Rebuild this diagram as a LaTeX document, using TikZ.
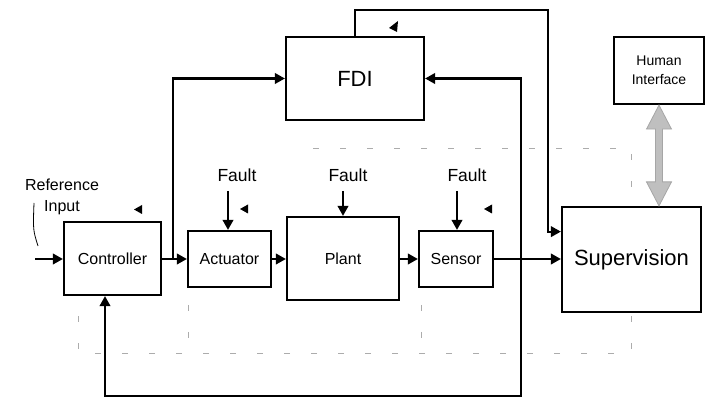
\documentclass[tikz,border=0pt]{standalone}
\usepackage{fontspec}
\setmainfont{Liberation Sans}
\usetikzlibrary{arrows.meta,calc}
\begin{document}
\begin{tikzpicture}[x=1pt,y=-1pt,
  blk/.style={draw=black,fill=white,line width=2.2pt,inner sep=0pt,font=\fontsize{16}{19}\selectfont},
  conn/.style={line width=2.2pt,-{Triangle[length=10pt,width=10.5pt]}},
  shadowline/.style={draw=gray!65,line width=0.9pt,dash pattern=on 6pt off 21pt},
  lbl/.style={font=\fontsize{17.5}{19}\selectfont,inner sep=0pt},
  dbl/.style={fill=gray!50,draw=gray!70,line width=0.8pt},
  pics/ltri/.style={code={\fill (4,-4.5) -- (-4,0) -- (4,4.5) -- cycle;}}
]
\useasboundingbox (0,0) rectangle (705,398);

% faint dashed lines (behind)
\draw[shadowline] (313,148) -- (631,148) -- (631,353) -- (78,353) -- (78,305);
\draw[shadowline] (188,305) -- (188,353);
\draw[shadowline] (421,305) -- (421,353);

% blocks
\node[blk,minimum width=97pt,minimum height=73pt] (ctrl) at (112.5,258.5) {Controller};
\node[blk,minimum width=83pt,minimum height=56pt] (act) at (229.5,259) {Actuator};
\node[blk,minimum width=112pt,minimum height=83pt] (plant) at (343,258.5) {Plant};
\node[blk,minimum width=74pt,minimum height=56pt] (sens) at (456,259) {Sensor};
\node[blk,minimum width=139pt,minimum height=105pt,font=\fontsize{22}{26}\selectfont] (sup) at (631.5,259.5) {Supervision};
\node[blk,minimum width=138pt,minimum height=83pt,font=\fontsize{22}{26}\selectfont] (fdi) at (355,78.5) {FDI};
\node[blk,minimum width=90pt,minimum height=67pt,align=center,font=\fontsize{14}{19}\selectfont] (hi) at (659,70.5) {Human\\Interface};

% reference input
\node[lbl,align=center,font=\fontsize{16}{21}\selectfont] (refin) at (62,197) {Reference\\Input};
\coordinate (inp) at (35,259);
\draw[line width=0.8pt] (34,203) .. controls (33,230) .. (38,246);
\draw[conn] (inp) -- (inp -| ctrl.west);

% fault inputs
\node[lbl] (f1) at (237,175) {Fault};
\node[lbl] (f2) at (348,175) {Fault};
\node[lbl] (f3) at (467,175) {Fault};
\coordinate (fa1) at (228,191);
\coordinate (fa2) at (343,191);
\coordinate (fa3) at (457,191);
\draw[conn] (fa1) -- (fa1 |- act.north);
\draw[conn] (fa2) -- (fa2 |- plant.north);
\draw[conn] (fa3) -- (fa3 |- sens.north);

% main chain
\draw[conn] (ctrl.east |- act.west) -- (act.west);
\draw[conn] (act.east) -- (act.east -| plant.west);
\draw[conn] (plant.east |- sens.west) -- (sens.west);
\draw[conn] (sens.east) -- (sens.east -| sup.west);

% controller output to FDI
\coordinate (b1) at (173,259);
\draw[conn] (b1) |- (fdi.west);

% sensor output to FDI and feedback
\coordinate (b2) at (521,259);
\coordinate (fb) at (105,396);
\draw[conn] (b2) |- (fdi.east);
\draw[conn] (b2) |- (fb) -- (fb |- ctrl.south);

% FDI to supervision
\coordinate (t1) at (548,10);
\draw[conn] (fdi.north) |- (t1) |- ($(sup.north west)!0.24!(sup.south west)$);

% human interface double arrow
\coordinate (dbA) at (hi.south);
\coordinate (dbB) at (hi.south |- sup.north);
\filldraw[dbl] (dbA) -- ++(12.5,24) -- ++(-9,0) -- ($(dbB)+(3.5,-24)$) -- ++(9,0) -- (dbB)
  -- ++(-12.5,-24) -- ++(9,0) -- ($(dbA)+(-3.5,24)$) -- ++(-9,0) -- cycle;

% small marks
\pic at (138,209.5) {ltri};
\pic at (244,209) {ltri};
\pic at (488,209) {ltri};
\fill (389,28) -- (398,21) -- (397,32) -- cycle;
\end{tikzpicture}
\end{document}
